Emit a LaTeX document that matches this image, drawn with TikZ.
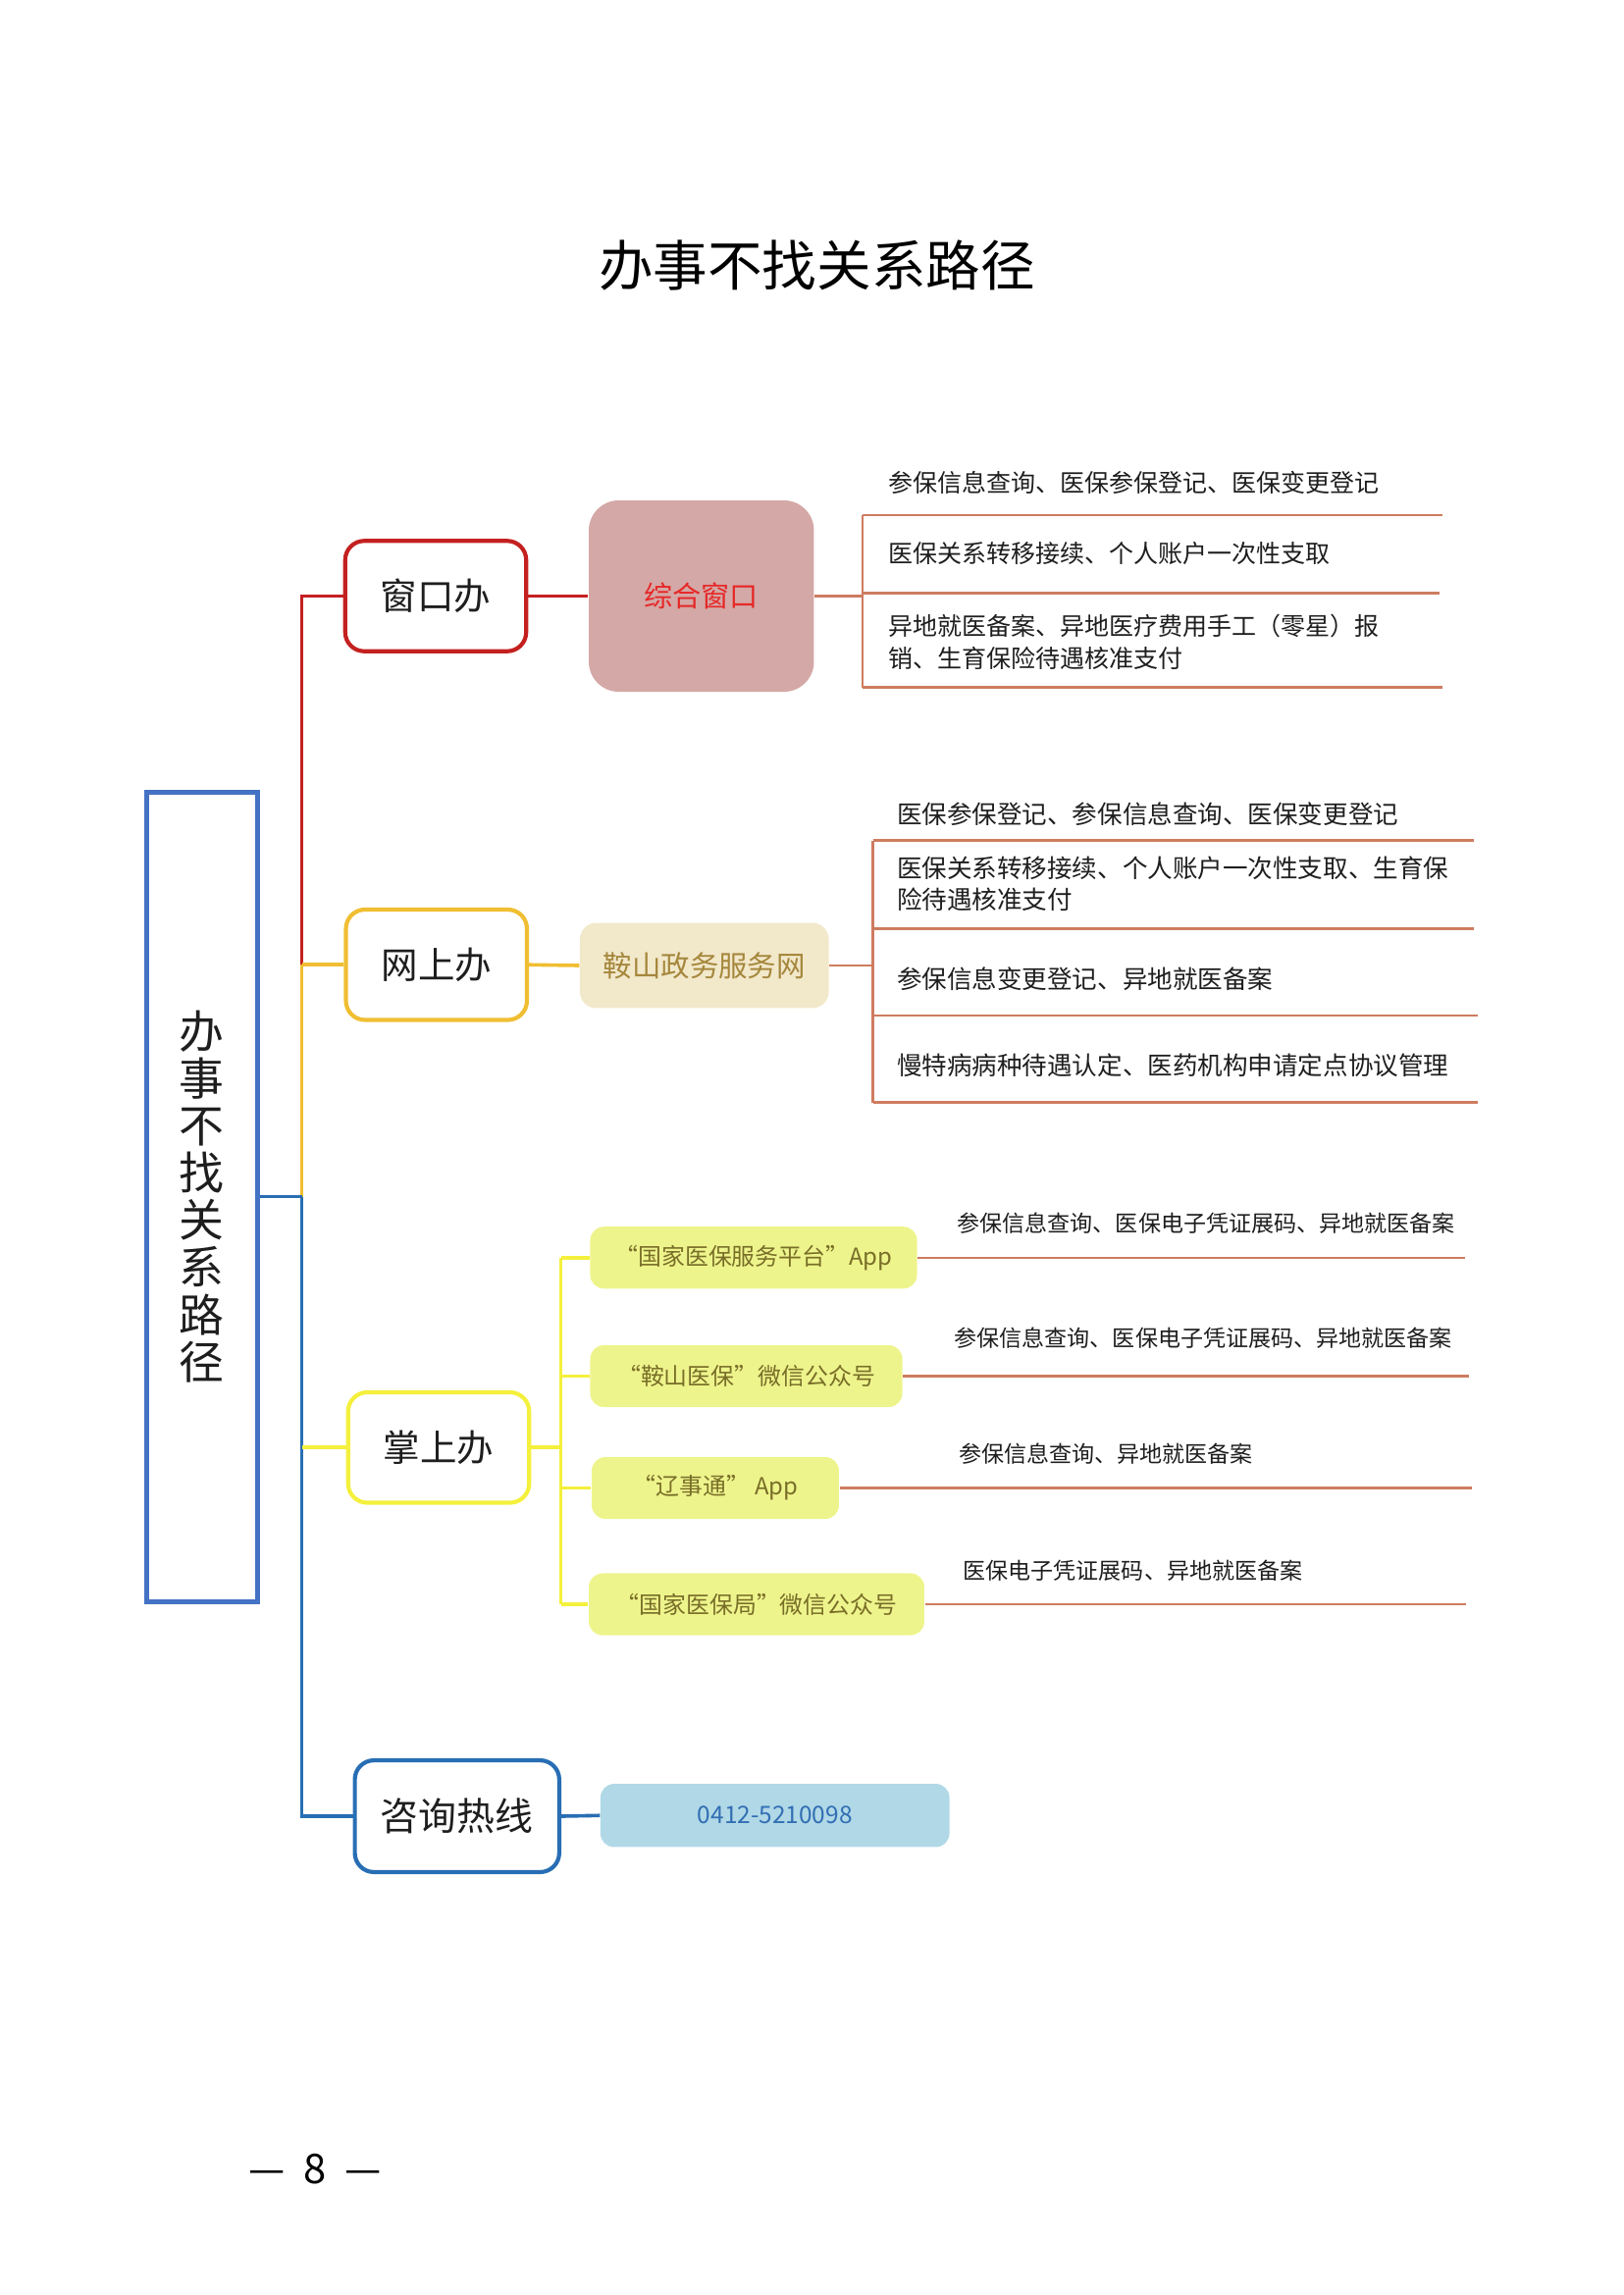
\documentclass[tikz,border=0pt]{standalone}
\usepackage{fontspec}
\setmainfont{Noto Sans CJK SC}
\definecolor{cred}{RGB}{196,32,32}
\definecolor{cgold}{RGB}{240,190,50}
\definecolor{cyel}{RGB}{244,240,60}
\definecolor{cblue}{RGB}{40,110,180}
\definecolor{boxblue}{RGB}{68,114,196}
\definecolor{pinkfill}{RGB}{212,168,166}
\definecolor{pinktext}{RGB}{230,40,40}
\definecolor{beigefill}{RGB}{242,232,202}
\definecolor{beigetext}{RGB}{165,135,60}
\definecolor{appfill}{RGB}{238,244,140}
\definecolor{apptext}{RGB}{120,110,40}
\definecolor{leafline}{RGB}{206,124,96}
\definecolor{phonefill}{RGB}{176,216,230}
\definecolor{phonetext}{RGB}{50,110,180}
\definecolor{txt}{RGB}{30,30,30}
\begin{document}
\begin{tikzpicture}[x=0.54pt,y=-0.54pt,
  lvone/.style={draw,line width=1.5pt,rounded corners=7pt,fill=white,minimum width=66.4pt,minimum height=40.5pt,inner sep=0pt,font=\fontsize{13.5}{14}\selectfont,text=txt},
  leafa/.style={anchor=west,inner sep=0pt,align=left,text=txt,font=\fontsize{9}{11.9}\selectfont},
  leafb/.style={anchor=west,inner sep=0pt,align=left,text=txt,font=\fontsize{9.2}{11.3}\selectfont},
  leafc/.style={anchor=west,inner sep=0pt,align=left,text=txt,font=\fontsize{8.3}{10}\selectfont},
  appbox/.style={fill=appfill,rounded corners=5pt,minimum height=22.7pt,inner sep=0pt,text=apptext,font=\fontsize{8.6}{9}\selectfont},
  conn/.style={line width=1.3pt},
  lline/.style={line width=0.9pt,draw=leafline}]
\useasboundingbox (0,0) rectangle (1102.67,1559.33);

% title
\node (title) at (555,180) {\fontsize{20}{24}\selectfont 办事不找关系路径};

% main vertical box
\node[draw=boxblue,line width=1.8pt,minimum width=40.8pt,minimum height=297pt,inner sep=0pt,align=center,text=txt,font=\fontsize{16.5}{17.3}\selectfont] (main) at (137.25,813) {办\\事\\不\\找\\关\\系\\路\\径};

% level one
\node[lvone,draw=cred] (w1) at (296,405) {窗口办};
\node[lvone,draw=cgold] (w2) at (296.5,655.5) {网上办};
\node[lvone,draw=cyel] (w3) at (298,983.5) {掌上办};
\node[lvone,draw=cblue,minimum width=75pt,minimum height=41pt,font=\fontsize{14}{15}\selectfont] (w4) at (310.5,1234) {咨询热线};

% spine
\coordinate (jg) at (205,655.5);
\coordinate (jm) at (205,813);
\coordinate (j3) at (205,983.5);
\draw[conn,cred] (w1.west) -| (jg);
\draw[conn,cgold] (jg) -- (jm);
\draw[conn,cgold] (jg) -- (w2.west);
\draw[conn,cblue] (w4.west) -| (jm);
\draw[conn,cblue] (main.east) -- (jm);
\draw[conn,cyel] (j3) -- (w3.west);

% level two
\node[fill=pinkfill,rounded corners=11pt,minimum width=82.6pt,minimum height=70.2pt,inner sep=0pt,text=pinktext,font=\fontsize{10.5}{12}\selectfont] (z1) at (476.5,405) {综合窗口};
\node[fill=beigefill,rounded corners=6pt,minimum width=91.3pt,minimum height=31.3pt,inner sep=0pt,text=beigetext,font=\fontsize{10.6}{12}\selectfont] (z2) at (478.5,656) {鞍山政务服务网};
\node[appbox,minimum width=119.9pt] (a1) at (512,854.5) {“国家医保服务平台”App};
\node[appbox,minimum width=114.5pt] (a2) at (507,935) {“鞍山医保”微信公众号};
\node[appbox,minimum width=90.7pt] (a3) at (486,1011) {“辽事通” App};
\node[appbox,minimum width=123.1pt] (a4) at (514,1090) {“国家医保局”微信公众号};
\node[fill=phonefill,rounded corners=5pt,minimum width=128pt,minimum height=23.2pt,inner sep=0pt,text=phonetext,font=\fontsize{8.8}{10}\selectfont] (ph) at (526.5,1233.5) {0412-5210098};

\draw[conn,cred] (w1.east) -- (z1.west);
\draw[conn,cgold] (w2.east) -- (z2.west);
\draw[conn,cblue] (w4.east) -- (ph.west);

% window leaves
\coordinate (b1) at (586,405);
\coordinate (u1as) at (586,350); \coordinate (u1ae) at (980,350);
\coordinate (u1bs) at (586,403); \coordinate (u1be) at (978,403);
\coordinate (u1cs) at (586,467); \coordinate (u1ce) at (980,467);
\draw[lline] (z1.east) -- (b1);
\draw[lline] (u1as) -- (u1cs);
\draw[lline] (u1as) -- (u1ae);
\draw[lline] (u1bs) -- (u1be);
\draw[lline] (u1cs) -- (u1ce);
\node[leafa] (l11) at (603,328) {参保信息查询、医保参保登记、医保变更登记};
\node[leafa] (l12) at (603,376) {医保关系转移接续、个人账户一次性支取};
\node[leafa] (l13) at (603,436) {异地就医备案、异地医疗费用手工（零星）报\\销、生育保险待遇核准支付};

% online leaves
\coordinate (b2) at (593,656);
\coordinate (u2as) at (593,571); \coordinate (u2ae) at (1001,571);
\coordinate (u2bs) at (593,631); \coordinate (u2be) at (1001,631);
\coordinate (u2cs) at (593,690); \coordinate (u2ce) at (1004,690);
\coordinate (u2ds) at (593,749); \coordinate (u2de) at (1004,749);
\draw[lline] (z2.east) -- (b2);
\draw[lline] (u2as) -- (u2ds);
\draw[lline] (u2as) -- (u2ae);
\draw[lline] (u2bs) -- (u2be);
\draw[lline] (u2cs) -- (u2ce);
\draw[lline] (u2ds) -- (u2de);
\node[leafb] (l21) at (609,553) {医保参保登记、参保信息查询、医保变更登记};
\node[leafb] (l22) at (609,600.5) {医保关系转移接续、个人账户一次性支取、生育保\\险待遇核准支付};
\node[leafb] (l23) at (609,665) {参保信息变更登记、异地就医备案};
\node[leafb] (l24) at (609,724) {慢特病病种待遇认定、医药机构申请定点协议管理};

% handheld bracket
\coordinate (b3) at (381,983.5);
\coordinate (b3t) at (381,854.5);
\coordinate (b3b) at (381,1090);
\draw[conn,cyel] (w3.east) -- (b3);
\draw[conn,cyel] (b3t) -- (b3b);
\draw[conn,cyel] (b3t) -- (a1.west);
\draw[conn,cyel] (381,935) -- (a2.west);
\draw[conn,cyel] (381,1011) -- (a3.west);
\draw[conn,cyel] (b3b) -- (a4.west);

% handheld leaves
\coordinate (e1) at (995,854.5);
\coordinate (e2) at (998,935);
\coordinate (e3) at (1000,1011);
\coordinate (e4) at (996,1090);
\draw[lline] (a1.east) -- (e1);
\draw[lline] (a2.east) -- (e2);
\draw[lline] (a3.east) -- (e3);
\draw[lline] (a4.east) -- (e4);
\node[leafc] (l31) at (650,831) {参保信息查询、医保电子凭证展码、异地就医备案};
\node[leafc] (l32) at (648,909) {参保信息查询、医保电子凭证展码、异地就医备案};
\node[leafc] (l33) at (651,988) {参保信息查询、异地就医备案};
\node[leafc] (l34) at (654,1067) {医保电子凭证展码、异地就医备案};

% page number
\node (pg) at (214,1474) {\fontsize{15}{17}\selectfont —\hspace{0.45em}8\hspace{0.45em}—};
\end{tikzpicture}
\end{document}
